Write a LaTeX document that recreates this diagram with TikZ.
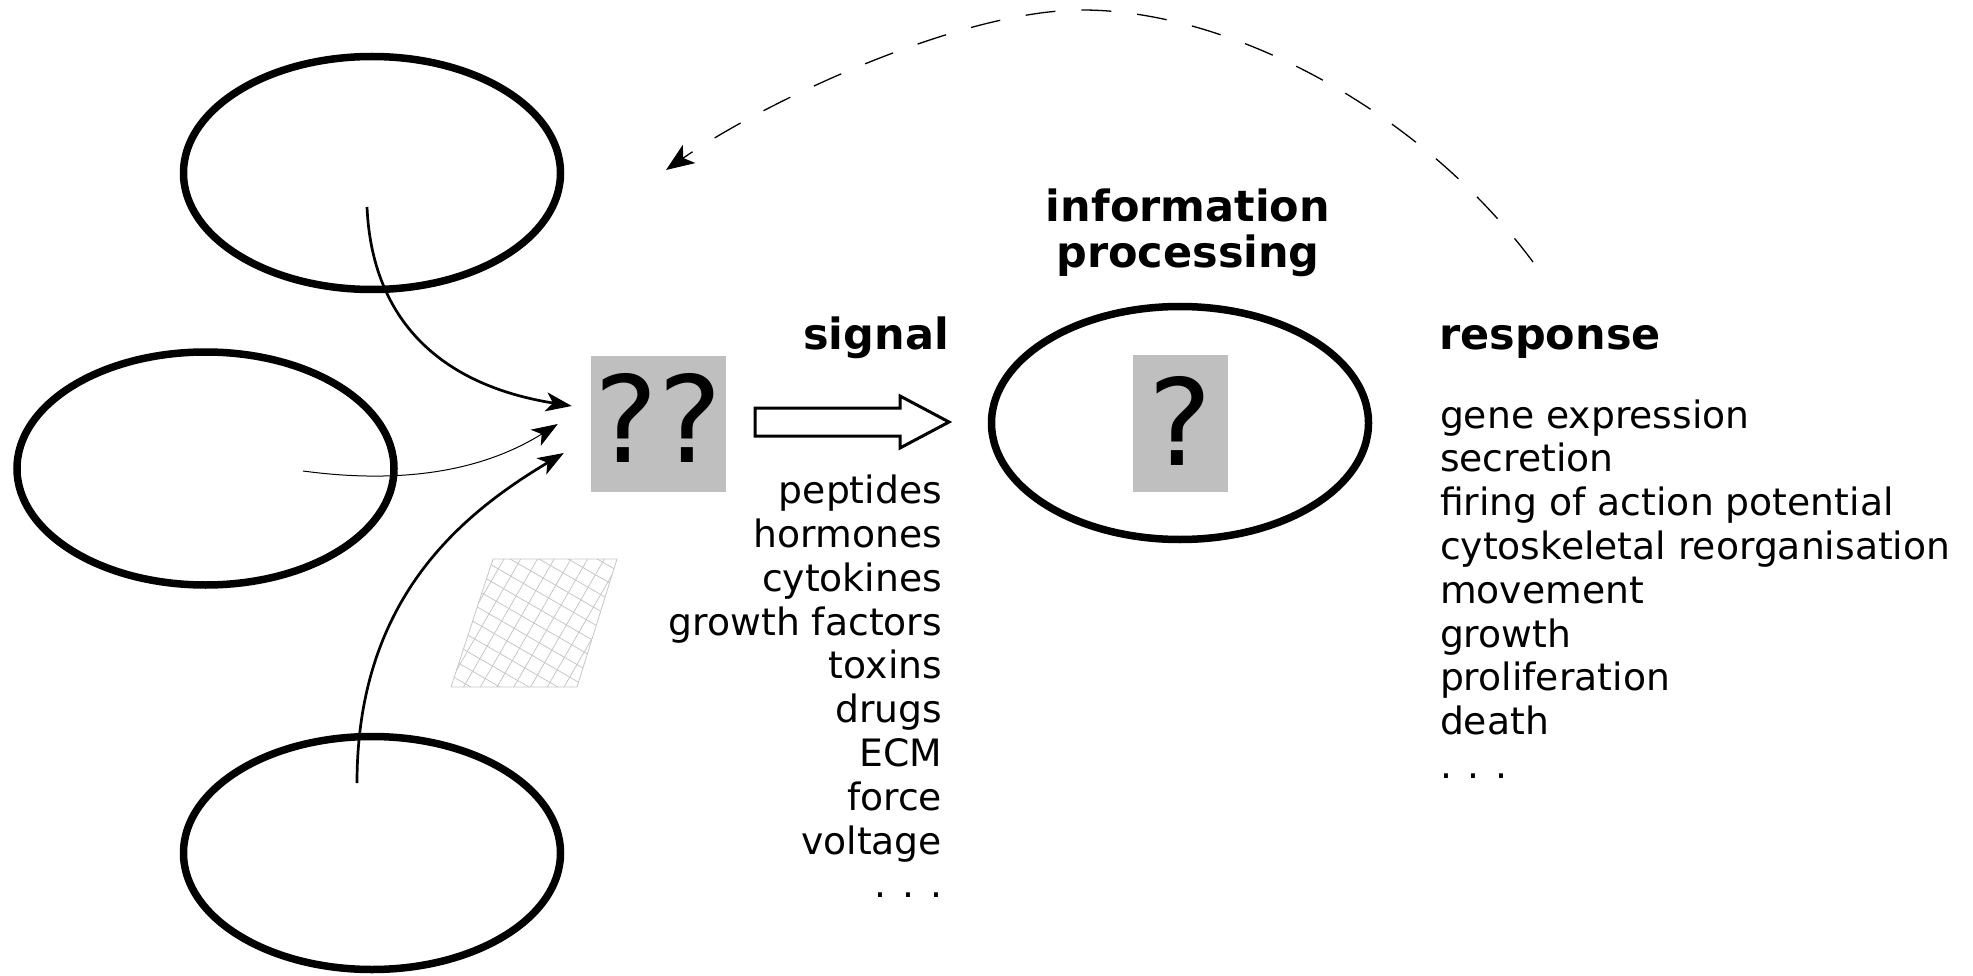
\documentclass[tikz,border=0pt]{standalone}
\usepackage{fontspec}
\setmainfont{DejaVu Sans}
\usetikzlibrary{arrows.meta}
\usetikzlibrary{shapes}
\usetikzlibrary{positioning,matrix}
\tikzset{
    cell/.style={
        draw,
        ellipse,
        line width=7.5pt,
        minimum width=377pt,
        minimum height=233pt,
        inner sep=0pt
    },
    qbox/.style={
        fill=black!25,
        inner sep=0pt,
        font=\fontsize{120}{120}\selectfont
    },
    heading/.style={
        align=center,
        inner sep=0pt,
        font=\fontsize{43}{46}\selectfont\bfseries
    },
    item list/.style={
        matrix of nodes,
        row sep=5.6pt,
        inner sep=0pt,
        outer sep=0pt,
        nodes={
            inner sep=0pt,
            text height=29pt,
            text depth=9.2pt,
            font=\fontsize{37.7}{44}\selectfont
          }
     },
    signal arrow/.style={
        -{Stealth[length=26pt,width=19pt,inset=7pt]}
    },
    mesh line/.style={draw=black!22, line width=0.8pt}
}

\begin{document}
\begin{tikzpicture}[x=1pt,y=-1pt]
    \useasboundingbox (0,0) rectangle (1973,976);
    % cells
    \node[cell] (cellA) at (372,173) {};
    \node[cell] (cellB) at (205.5,468.5) {};
    \node[cell] (cellC) at (372,853) {};
    \node[cell] (infocell) at (1180,423) {};
    \node[qbox, minimum width=135pt, minimum height=136pt, text depth=11.5pt] (sigbox) at (658.5,424) {??};
    \node[qbox, minimum width=95pt, minimum height=137pt, text depth=4.5pt] (procbox) at (infocell.center) {?};
    % matrix
    \begin{scope}
        \clip (493,559) -- (617,559) -- (577,687) -- (451,687) -- cycle;
        \begin{scope}[shift={(534,623)}, rotate=-30]
            \foreach \k in {-9,...,9}
                \draw[mesh line] (\k*14.5,-160) -- (\k*14.5,160)
                                 (-160,\k*14.5) -- (160,\k*14.5);
        \end{scope}
    \end{scope}
    \draw[mesh line] (493,559) -- (617,559) -- (577,687) -- (451,687) -- cycle;
    % signals to the cell
    \coordinate (srcA) at ([xshift=-5pt,yshift=-34pt]cellA.center);
    \coordinate (srcB) at ([xshift=97.5pt,yshift=-2.5pt]cellB.center);
    \coordinate (srcC) at ([xshift=-15pt,yshift=70pt]cellC.center);
    \coordinate (tipA) at ([xshift=-19pt,yshift=18pt]sigbox.west);
    \coordinate (tipB) at ([xshift=-33pt]sigbox.west);
    \coordinate (tipC) at ([xshift=-27pt,yshift=-29pt]sigbox.west);
    \draw[signal arrow, line width=2.7pt] (srcA) .. controls (372,320) and (440,385) .. (tipA);
    \draw[signal arrow, line width=1pt] (srcB) .. controls (370,480) and (465,482) .. (tipB);
    \draw[signal arrow, line width=2.7pt] (srcC) .. controls (357,600) and (460,515) .. (tipC);
    % block arrow
    \draw[line width=3pt] (755,408) -- (900,408) -- (900,396) -- (949,422)
        -- (900,448) -- (900,436) -- (755,436) -- cycle;
    % labels
    \node[heading, anchor=base east] (signal) at (949,349) {signal};
    \node[heading, anchor=base west] (response) at (1439,349) {response};
    \node[heading, anchor=base] (infohead) at (1188,268) {information\\processing};
    \matrix[item list, anchor=north east, nodes={anchor=base east}] (siglist) at (942,474.6)
    {
        peptides\\ hormones\\ cytokines\\ growth factors\\ toxins\\
        drugs\\ ECM\\ force\\ voltage\\ . . .\\
    };
    \matrix[item list, anchor=north west, nodes={anchor=base west}] (resplist) at (1440,399)
    {
        gene expression\\ secretion\\ firing of action potential\\
        cytoskeletal reorganisation\\ movement\\ growth\\ proliferation\\
        death\\ . . .\\
    };
    % feedback
    \coordinate (fbstart) at (1533,262);
    \coordinate (fbtop) at (1082,10);
    \coordinate (fbend) at (666,170);
    \draw[-{Stealth[length=28pt,width=22pt,inset=7pt]}, line width=1.3pt, dash pattern=on 30pt off 26pt]
        (fbstart) .. controls (1420,110) and (1230,10) .. (fbtop)
        .. controls (960,10) and (764,102) .. (fbend);
\end{tikzpicture}
\end{document}
